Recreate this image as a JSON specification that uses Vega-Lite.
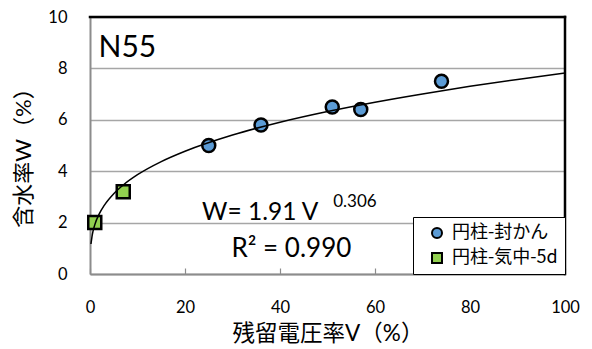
{
  "$schema": "https://vega.github.io/schema/vega-lite/v6.json",
  "width": 475,
  "height": 257,
  "autosize": {"type": "none"},
  "padding": {"left": 90, "top": 17, "right": 27, "bottom": 75},
  "background": "white",
  "config": {
    "font": "Lato, 'Noto Sans CJK JP'",
    "view": {"stroke": null},
    "axis": {
      "labelFont": "Lato, 'Noto Sans CJK JP'",
      "titleFont": "Lato, 'Noto Sans CJK JP'",
      "labelColor": "black",
      "titleColor": "black",
      "titleFontWeight": "normal",
      "labelFlush": false,
      "domainColor": "#8c8c8c",
      "domainWidth": 2
    }
  },
  "datasets": {
    "measured": [
      {"V": 25, "W": 5.0, "series": "円柱-封かん"},
      {"V": 36, "W": 5.8, "series": "円柱-封かん"},
      {"V": 51, "W": 6.5, "series": "円柱-封かん"},
      {"V": 57, "W": 6.4, "series": "円柱-封かん"},
      {"V": 74, "W": 7.5, "series": "円柱-封かん"},
      {"V": 1, "W": 2.0, "series": "円柱-気中-5d"},
      {"V": 7, "W": 3.2, "series": "円柱-気中-5d"}
    ],
    "fit": [
      {"V": 0.2, "W": 1.167},
      {"V": 0.5, "W": 1.545},
      {"V": 1, "W": 1.91},
      {"V": 2, "W": 2.361},
      {"V": 3, "W": 2.673},
      {"V": 5, "W": 3.126},
      {"V": 7, "W": 3.464},
      {"V": 10, "W": 3.864},
      {"V": 15, "W": 4.374},
      {"V": 20, "W": 4.777},
      {"V": 30, "W": 5.408},
      {"V": 40, "W": 5.906},
      {"V": 50, "W": 6.323},
      {"V": 60, "W": 6.686},
      {"V": 70, "W": 7.008},
      {"V": 80, "W": 7.301},
      {"V": 90, "W": 7.569},
      {"V": 100, "W": 7.817}
    ],
    "frame": [{"V0": 0, "V1": 100, "W0": 10, "W1": 10}, {"V0": 100, "V1": 100, "W0": 0, "W1": 10}],
    "notesLeft": [
      {"V": 1.8, "W": 8.45, "text": "N55", "size": 30},
      {"V": 23.6, "W": 2.1, "text": "W= 1.91 V", "size": 24.5},
      {"V": 51.2, "W": 2.6, "text": "0.306", "size": 17}
    ],
    "notesCenter": [
      {"V": 42.4, "W": 0.66, "text": "R² = 0.990", "size": 26}
    ]
  },
  "layer": [
    {
      "data": {"name": "measured"},
      "mark": {"type": "point", "filled": true, "opacity": 1, "size": 169, "stroke": "black", "strokeWidth": 2.5},
      "encoding": {
        "x": {
          "field": "V", "type": "quantitative",
          "scale": {"domain": [0, 100], "nice": false},
          "axis": {
            "title": "残留電圧率V（%）",
            "values": [0, 20, 40, 60, 80, 100],
            "grid": false,
            "tickColor": "#8c8c8c",
            "tickSize": -6,
            "tickWidth": 1.2,
            "labelFontSize": 16.5,
            "labelPadding": 31,
            "titleFontSize": 22.5,
            "titleY": 59,
            "titleBaseline": "middle"
          }
        },
        "y": {
          "field": "W", "type": "quantitative",
          "scale": {"domain": [0, 10], "nice": false},
          "axis": {
            "title": "含水率W（%）",
            "values": [0, 2, 4, 6, 8, 10],
            "ticks": false,
            "gridColor": "#a6a6a6",
            "gridWidth": 1.3,
            "labelFontSize": 16.5,
            "labelPadding": 23,
            "titleFontSize": 22,
            "titleX": -67,
            "titleY": 135,
            "titleBaseline": "middle"
          }
        },
        "shape": {
          "field": "series", "type": "nominal",
          "scale": {"domain": ["円柱-封かん", "円柱-気中-5d"], "range": ["circle", "square"]},
          "legend": {
            "title": null,
            "orient": "bottom-right",
            "offset": 0,
            "padding": 7,
            "rowPadding": 7,
            "strokeColor": "black",
            "fillColor": "white",
            "symbolSize": 100,
            "symbolOffset": 8,
            "symbolStrokeColor": "black",
            "symbolStrokeWidth": 2,
            "labelFontSize": 18,
            "labelFont": "'Noto Sans CJK JP'",
            "labelOffset": 6,
            "labelColor": "black"
          }
        },
        "color": {
          "field": "series", "type": "nominal",
          "scale": {"domain": ["円柱-封かん", "円柱-気中-5d"], "range": ["#5b9bd5", "#92d050"]}
        }
      }
    },
    {
      "data": {"name": "fit"},
      "mark": {"type": "line", "color": "black", "strokeWidth": 1.5, "interpolate": "monotone"},
      "encoding": {
        "x": {"field": "V", "type": "quantitative"},
        "y": {"field": "W", "type": "quantitative"}
      }
    },
    {
      "data": {"name": "frame"},
      "mark": {"type": "rule", "color": "black", "strokeWidth": 2.5, "strokeCap": "square"},
      "encoding": {
        "x": {"field": "V0", "type": "quantitative"},
        "x2": {"field": "V1"},
        "y": {"field": "W0", "type": "quantitative"},
        "y2": {"field": "W1"}
      }
    },
    {
      "data": {"name": "notesLeft"},
      "mark": {"type": "text", "baseline": "alphabetic", "align": "left", "color": "black", "font": "Lato"},
      "encoding": {
        "x": {"field": "V", "type": "quantitative"},
        "y": {"field": "W", "type": "quantitative"},
        "text": {"field": "text"},
        "size": {"field": "size", "type": "quantitative", "scale": null}
      }
    },
    {
      "data": {"name": "notesCenter"},
      "mark": {"type": "text", "baseline": "alphabetic", "align": "center", "color": "black", "font": "Lato"},
      "encoding": {
        "x": {"field": "V", "type": "quantitative"},
        "y": {"field": "W", "type": "quantitative"},
        "text": {"field": "text"},
        "size": {"field": "size", "type": "quantitative", "scale": null}
      }
    }
  ]
}
